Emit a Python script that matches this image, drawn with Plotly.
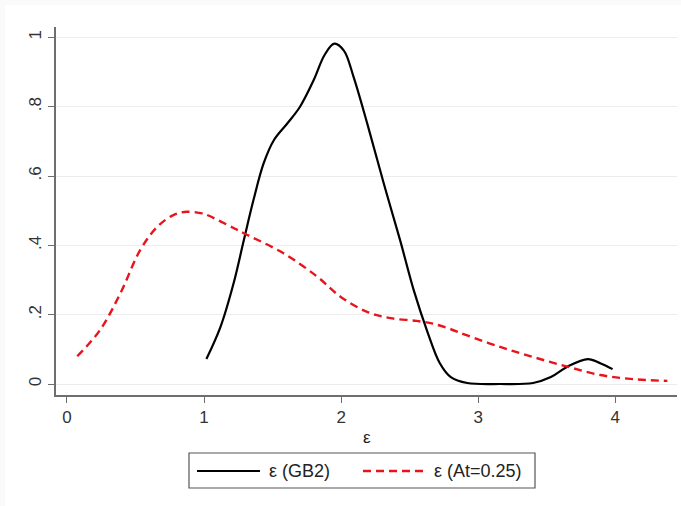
import plotly.graph_objects as go

# ---- data ----
gb2_x = [1.017, 1.12, 1.215, 1.29, 1.36, 1.435, 1.51, 1.61, 1.70, 1.80, 1.88, 1.95,
         2.02, 2.09, 2.19, 2.31, 2.43, 2.53, 2.63, 2.72, 2.80, 2.92, 3.16, 3.40, 3.53,
         3.65, 3.80, 3.89, 3.98]
gb2_y = [0.072, 0.165, 0.29, 0.415, 0.53, 0.637, 0.704, 0.753, 0.80, 0.877, 0.95, 0.982,
         0.962, 0.887, 0.752, 0.58, 0.415, 0.27, 0.15, 0.06, 0.02, 0.003, 0.0, 0.003, 0.02,
         0.05, 0.072, 0.06, 0.043]

at_x = [0.075, 0.24, 0.39, 0.535, 0.66, 0.78, 0.875, 0.975, 1.02, 1.215, 1.29, 1.58,
        1.825, 1.995, 2.19, 2.36, 2.55, 2.67, 2.80, 2.92, 3.16, 3.40, 3.65, 3.89, 4.13, 4.38]
at_y = [0.08, 0.155, 0.262, 0.387, 0.454, 0.488, 0.497, 0.493, 0.488, 0.45, 0.435, 0.377,
        0.31, 0.252, 0.208, 0.19, 0.182, 0.174, 0.158, 0.14, 0.107, 0.078, 0.05, 0.026, 0.014, 0.009]

x_ticks = [0, 1, 2, 3, 4]
y_ticks = [0, 0.2, 0.4, 0.6, 0.8, 1]
y_tick_labels = ["0", ".2", ".4", ".6", ".8", "1"]
legend_labels = ["ε (GB2)", "ε (At=0.25)"]
x_title = "ε"

W, H = 681, 506
ML, MR, MT, MB = 56, 4, 27, 111
PW, PH = W - ML - MR, H - MT - MB


def px(x):
    return (x - ML) / PW


def py(y):
    return (H - MB - y) / PH


fig = go.Figure()
fig.add_trace(go.Scatter(x=gb2_x, y=gb2_y, mode="lines", name=legend_labels[0],
                         line=dict(color="black", width=2.2, shape="spline", smoothing=1.0),
                         showlegend=False))
fig.add_trace(go.Scatter(x=at_x, y=at_y, mode="lines", name=legend_labels[1],
                         line=dict(color="#e8141c", width=2.4, dash="8px,5px",
                                   shape="spline", smoothing=1.0),
                         showlegend=False))

FONT = "Liberation Sans, Arial, sans-serif"
TICKC = "#333333"
AXC = "#6e6e6e"

shapes = [
    # faint outer frame
    dict(type="rect", xref="paper", yref="paper", x0=px(5), x1=px(W + 5), y0=py(H + 5), y1=py(5),
         fillcolor="white", line=dict(width=0), layer="below"),
    # legend box
    dict(type="rect", xref="paper", yref="paper", x0=px(189), x1=px(535), y0=py(488), y1=py(453),
         line=dict(color="#555555", width=1.2), fillcolor="white"),
    dict(type="line", xref="paper", yref="paper", x0=px(197), x1=px(260), y0=py(471), y1=py(471),
         line=dict(color="black", width=2.2)),
    dict(type="line", xref="paper", yref="paper", x0=px(363), x1=px(428), y0=py(471), y1=py(471),
         line=dict(color="#e8141c", width=2.4, dash="8px,5px")),
]

annotations = [
    dict(text=legend_labels[0], xref="paper", yref="paper", x=px(267), y=py(471),
         xanchor="left", yanchor="middle", showarrow=False,
         font=dict(family=FONT, size=18, color="#222222")),
    dict(text=legend_labels[1], xref="paper", yref="paper", x=px(432), y=py(471),
         xanchor="left", yanchor="middle", showarrow=False,
         font=dict(family=FONT, size=18, color="#222222")),
    dict(text=x_title, xref="paper", yref="paper", x=px(367), y=py(437),
         xanchor="center", yanchor="middle", showarrow=False,
         font=dict(family=FONT, size=17, color="#222222")),
]

fig.update_layout(
    width=W, height=H,
    margin=dict(l=ML, r=MR, t=MT, b=MB, pad=0),
    paper_bgcolor="#fafafa",
    plot_bgcolor="white",
    font=dict(family=FONT, size=16, color=TICKC),
    shapes=shapes,
    annotations=annotations,
    showlegend=False,
)

fig.update_xaxes(
    range=[-0.08, 4.45], tickvals=x_ticks, ticktext=[str(v) for v in x_ticks],
    showgrid=False, zeroline=False, showline=True, linecolor=AXC, linewidth=1.5,
    ticks="outside", ticklen=6, tickcolor=AXC, tickwidth=1.3,
    tickfont=dict(family=FONT, size=17, color=TICKC),
)
fig.update_yaxes(
    range=[-0.0317, 1.030], tickvals=y_ticks, ticktext=y_tick_labels,
    showgrid=True, gridcolor="#ececec", gridwidth=1.2, zeroline=False,
    showline=True, linecolor=AXC, linewidth=1.5,
    ticks="outside", ticklen=6, tickcolor=AXC, tickwidth=1.3, tickangle=-90,
    tickfont=dict(family=FONT, size=17, color=TICKC),
)

fig.write_html("out.html")
